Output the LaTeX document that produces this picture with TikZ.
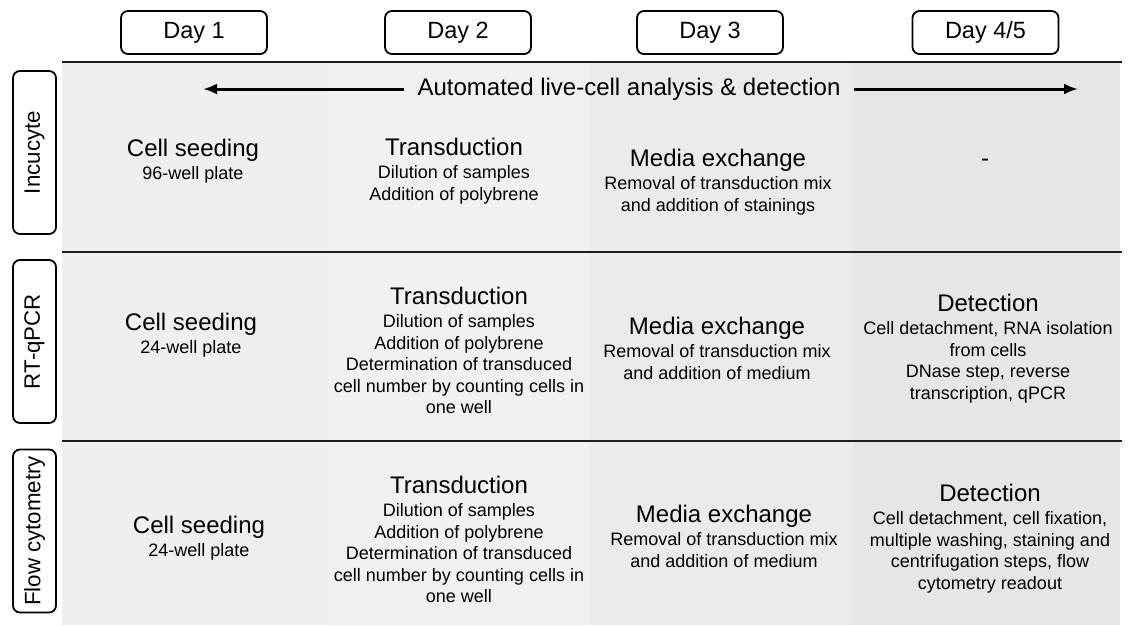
\documentclass[tikz,border=0pt]{standalone}
\usepackage{fontspec}
\setmainfont{Liberation Sans}
\usetikzlibrary{positioning}
\usetikzlibrary{arrows.meta}

\definecolor{shadeA}{HTML}{EFEFEF}
\definecolor{shadeB}{HTML}{F1F1F1}
\definecolor{shadeC}{HTML}{EBEBEB}
\definecolor{shadeD}{HTML}{E6E6E6}
\definecolor{inkline}{HTML}{1E1E1E}

\begin{document}
\begin{tikzpicture}[x=1pt,y=-1pt,
  daybox/.style={draw,line width=1.8pt,rounded corners=7pt,minimum width=146pt,minimum height=43pt,inner sep=0pt,font=\fontsize{23.5}{26}\selectfont},
  rowbox/.style={draw,line width=1.8pt,rounded corners=7pt,minimum width=163pt,minimum height=43pt,inner sep=0pt,rotate=90,font=\fontsize{22.3}{24}\selectfont},
  title/.style={inner sep=0pt,text height=17.2pt,text depth=0pt,font=\fontsize{24}{26}\selectfont},
  detail/.style={inner sep=0pt,align=center,font=\fontsize{18}{21.4}\selectfont},
  sepline/.style={inkline,line width=1.5pt},
  timeline/.style={line width=3pt,-{Latex[length=14pt,width=11pt]}}]

\useasboundingbox (0,0) rectangle (1128,625);

\fill[shadeA] (62,62) rectangle (328,625);
\fill[shadeB] (328,62) rectangle (590,625);
\fill[shadeC] (590,62) rectangle (853,625);
\fill[shadeD] (853,62) rectangle (1120,625);

\draw[sepline] (62,62) -- (1122,62);
\draw[sepline] (62,252) -- (1122,252);
\draw[sepline] (62,441) -- (1122,441);

\node[daybox] (day1) at (194,32.5) {Day 1};
\node[daybox] (day2) at (458,32.5) {Day 2};
\node[daybox] (day3) at (710,32.5) {Day 3};
\node[daybox] (day4) at (985.5,32.5) {Day 4/5};

\node[rowbox] (incu) at (34.5,152.5) {Incucyte};
\node[rowbox] (rtpcr) at (34.5,341.5) {RT-qPCR};
\node[rowbox] (flow) at (34.5,531) {Flow cytometry};

\coordinate (tstart) at (203,89);
\coordinate (tend) at (1078,89);
\node[inner xsep=13pt,inner ysep=0pt,font=\fontsize{24}{26}\selectfont] (auto) at (629,89) {Automated live-cell analysis \& detection};
\draw[timeline] (auto.west) -- (tstart);
\draw[timeline] (auto.east) -- (tend);

\node[title] (seedA) at (193,148) {Cell seeding};
\node[detail,below=9.9pt of seedA] (seedAd) {96-well plate};
\node[title] (transA) at (454,147) {Transduction};
\node[detail,below=9.9pt of transA] (transAd) {Dilution of samples\\Addition of polybrene};
\node[title] (mediaA) at (718,158) {Media exchange};
\node[detail,below=9.9pt of mediaA] (mediaAd) {Removal of transduction mix\\and addition of stainings};
\node[title] (none) at (985,158) {-};

\node[title] (seedB) at (191,322) {Cell seeding};
\node[detail,below=9.9pt of seedB] (seedBd) {24-well plate};
\node[title] (transB) at (459,296) {Transduction};
\node[detail,below=9.9pt of transB] (transBd) {Dilution of samples\\Addition of polybrene\\Determination of transduced\\cell number by counting cells in\\one well};
\node[title] (mediaB) at (717,326) {Media exchange};
\node[detail,below=9.9pt of mediaB] (mediaBd) {Removal of transduction mix\\and addition of medium};
\node[title] (detB) at (988,303) {Detection};
\node[detail,below=9.9pt of detB] (detBd) {Cell detachment, RNA isolation\\from cells\\DNase step, reverse\\transcription, qPCR};

\node[title] (seedC) at (199,525) {Cell seeding};
\node[detail,below=9.9pt of seedC] (seedCd) {24-well plate};
\node[title] (transC) at (459,485) {Transduction};
\node[detail,below=9.9pt of transC] (transCd) {Dilution of samples\\Addition of polybrene\\Determination of transduced\\cell number by counting cells in\\one well};
\node[title] (mediaC) at (724,514) {Media exchange};
\node[detail,below=9.9pt of mediaC] (mediaCd) {Removal of transduction mix\\and addition of medium};
\node[title] (detC) at (990,493) {Detection};
\node[detail,below=9.9pt of detC] (detCd) {Cell detachment, cell fixation,\\multiple washing, staining and\\centrifugation steps, flow\\cytometry readout};

\end{tikzpicture}
\end{document}
